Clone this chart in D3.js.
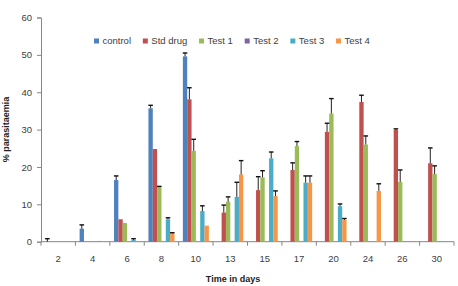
<!DOCTYPE html>
<html>
<head>
<meta charset="utf-8">
<script src="https://cdn.jsdelivr.net/npm/d3@7"></script>
<style>
  body { margin: 0; background: #fff; }
  text { font-family: "Liberation Sans", Arial, sans-serif; }
</style>
</head>
<body>
<div id="chart"></div>
<script>
// data
const days = ["2", "4", "6", "8", "10", "13", "15", "17", "20", "24", "26", "30"]
const seriesNames = ["control", "Std drug", "Test 1", "Test 2", "Test 3", "Test 4"]
const colors = ["#4F81BD", "#C0504D", "#9BBB59", "#8064A2", "#4BACC6", "#F79646"]

const control    = [0, 3.5, 16.5, 35.7, 49.6, null, null, null, null, null, null, null]
const controlErr = [0.8, 1.0, 1.1, 0.8, 0.9, null, null, null, null, null, null, null]
const stdDrug    = [null, null, 6.0, 24.8, 38.1, 7.8, 13.8, 19.2, 29.4, 37.4, 29.9, 21.0]
const stdDrugErr = [null, null, null, null, 3.1, 2.0, 3.6, 1.9, 2.3, 1.8, 0.3, 4.1]
const test1      = [null, null, 5.0, 14.6, 24.3, 10.7, 17.2, 25.6, 34.3, 26.0, 16.0, 18.1]
const test1Err   = [null, null, null, 0.2, 3.1, 1.3, 1.8, 1.2, 4.0, 2.3, 3.2, 2.2]
const test2      = [null, null, null, null, null, null, null, null, null, null, null, null]
const test2Err   = [null, null, null, null, null, null, null, null, null, null, null, null]
const test3      = [null, 0.2, 0.5, 6.0, 8.2, 12.0, 22.3, 15.8, 9.5, null, null, null]
const test3Err   = [null, null, 0.3, 0.4, 1.4, 3.9, 1.7, 1.8, 0.6, null, null, null]
const test4      = [null, null, null, 2.2, 4.3, 18.0, 12.2, 15.8, 5.8, 13.6, null, null]
const test4Err   = [null, null, null, 0.2, null, 3.7, 1.4, 1.8, 0.4, 1.9, null, null]

const yTicks = [0, 10, 20, 30, 40, 50, 60]

const values = [control, stdDrug, test1, test2, test3, test4]
const errors = [controlErr, stdDrugErr, test1Err, test2Err, test3Err, test4Err]

const w = 458
const h = 286
const margin = {left: 41, right: 4, top: 17.5, bottom: 44.3}

const svg = d3.select("#chart")
  .append("svg")
  .attr("width", w)
  .attr("height", h)

svg.append("rect").attr("width", w).attr("height", h).attr("fill", "#fff")

const x = d3.scaleBand()
  .domain(days)
  .range([margin.left, w - margin.right])
  .padding(0)

const xs = d3.scaleBand()
  .domain(seriesNames)
  .range([4.2, x.bandwidth() - 4.2])
  .padding(0)

const y = d3.scaleLinear()
  .domain([0, 60])
  .range([h - margin.bottom, margin.top])

const axisColor = "#868686"
const labelColor = "#404040"

// y axis
const yAxis = svg.append("g")
  .attr("transform", `translate(${margin.left},0)`)
  .call(d3.axisLeft(y).tickValues(yTicks).tickSize(4).tickPadding(5))
yAxis.select(".domain").attr("stroke", axisColor)
yAxis.selectAll(".tick line").attr("stroke", axisColor)
yAxis.selectAll(".tick text")
  .attr("fill", labelColor)
  .style("font-size", "9.5px")
  .style("font-family", "Liberation Sans, Arial, sans-serif")

// x axis - ticks sit between categories
const xAxisG = svg.append("g")
  .attr("transform", `translate(0,${y(0)})`)
xAxisG.append("line")
  .attr("x1", x.range()[0]).attr("x2", x.range()[1])
  .attr("stroke", axisColor)
const bounds = days.map(d => x(d)).concat([x.range()[1]])
xAxisG.selectAll(".xtick")
  .data(bounds)
  .join("line")
  .attr("class", "xtick")
  .attr("x1", d => d).attr("x2", d => d)
  .attr("y1", 0).attr("y2", 4)
  .attr("stroke", axisColor)
xAxisG.selectAll(".xlabel")
  .data(days)
  .join("text")
  .attr("class", "xlabel")
  .attr("x", d => x(d) + x.bandwidth() / 2)
  .attr("y", 20)
  .attr("text-anchor", "middle")
  .attr("fill", labelColor)
  .style("font-size", "9.5px")
  .text(d => d)

// bars
const flat = []
values.forEach((arr, si) => {
  arr.forEach((v, di) => {
    if (v != null) flat.push({s: seriesNames[si], si, day: days[di], v, e: errors[si][di]})
  })
})

svg.append("g")
  .selectAll("rect")
  .data(flat)
  .join("rect")
  .attr("x", d => x(d.day) + xs(d.s))
  .attr("y", d => y(d.v))
  .attr("width", xs.bandwidth())
  .attr("height", d => y(0) - y(d.v))
  .attr("fill", d => colors[d.si])

// error bars (plus only)
const errG = svg.append("g")
  .selectAll("g")
  .data(flat.filter(d => d.e != null))
  .join("g")
const cx = d => x(d.day) + xs(d.s) + xs.bandwidth() / 2
errG.append("line")
  .attr("x1", cx).attr("x2", cx)
  .attr("y1", d => y(d.v)).attr("y2", d => y(d.v + d.e))
  .attr("stroke", "#222").attr("stroke-width", 1)
errG.append("line")
  .attr("x1", d => cx(d) - 2.3).attr("x2", d => cx(d) + 2.3)
  .attr("y1", d => y(d.v + d.e)).attr("y2", d => y(d.v + d.e))
  .attr("stroke", "#111").attr("stroke-width", 1.4)

// legend
const legend = svg.append("g").attr("transform", "translate(94,41)")
let lx = 0
seriesNames.forEach((name, i) => {
  legend.append("rect")
    .attr("x", lx).attr("y", -2.5)
    .attr("width", 5).attr("height", 5)
    .attr("fill", colors[i])
  const t = legend.append("text")
    .attr("x", lx + 8.5).attr("y", 3.3)
    .attr("fill", labelColor)
    .style("font-size", "9.5px")
    .text(name)
  lx += 8.5 + t.node().getComputedTextLength() + 11.8
})

// axis titles
svg.append("text")
  .attr("x", 233)
  .attr("y", 282)
  .attr("text-anchor", "middle")
  .attr("fill", "#222")
  .style("font-size", "9px")
  .style("font-weight", "bold")
  .text("Time in days")

svg.append("text")
  .attr("transform", "translate(9,129.5) rotate(-90)")
  .attr("text-anchor", "middle")
  .attr("fill", "#222")
  .style("font-size", "9px")
  .style("font-weight", "bold")
  .text("% parasitaemia")
</script>
</body>
</html>
